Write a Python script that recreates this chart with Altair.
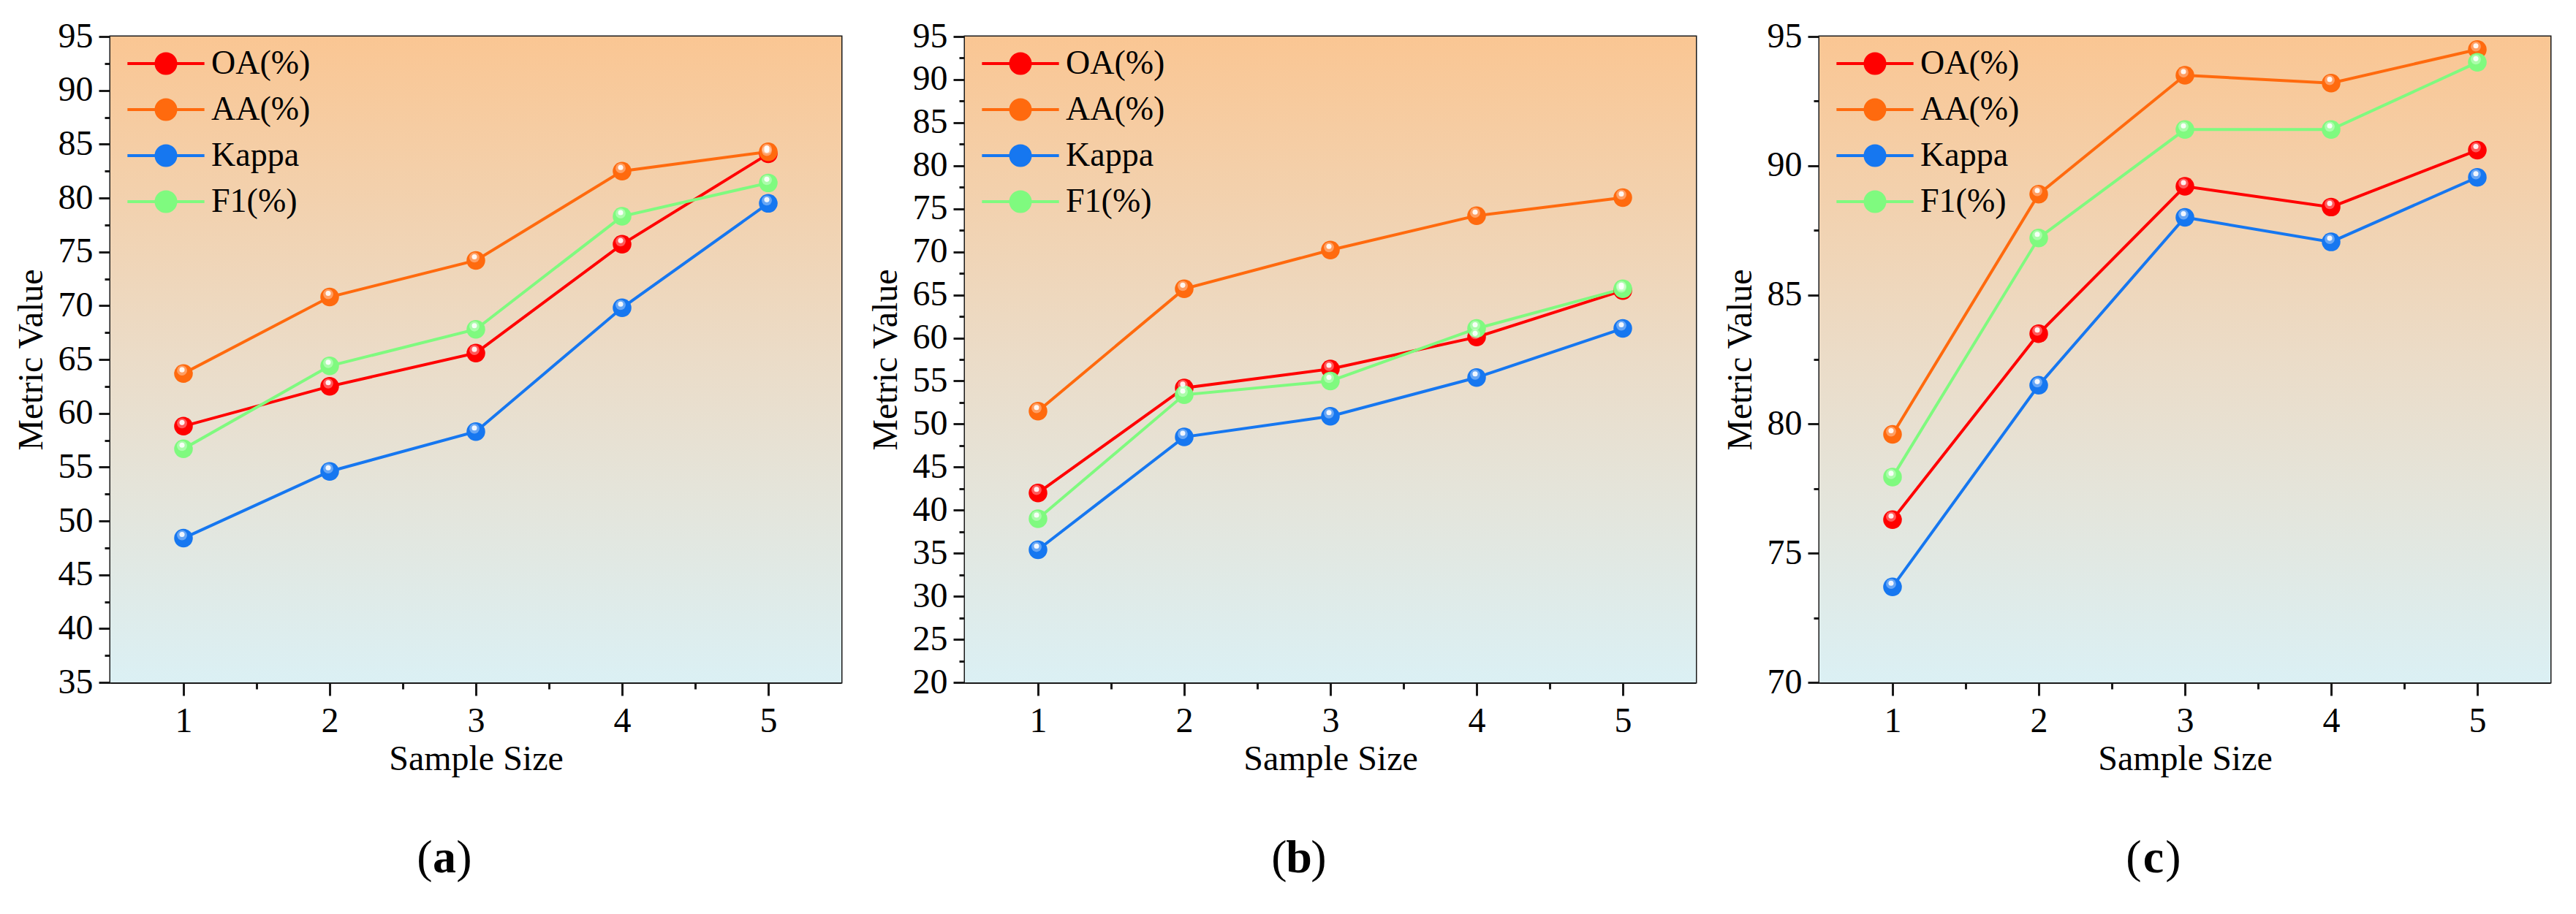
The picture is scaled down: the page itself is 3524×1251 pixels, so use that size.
import altair as alt
import pandas as pd

# ---------------- data ----------------
x_vals = [1, 2, 3, 4, 5]
series = ["OA(%)", "AA(%)", "Kappa", "F1(%)"]
colors = ["#FF0000", "#FF6A0E", "#1677F0", "#7FFA7F"]

a_oa = [58.8, 62.5, 65.6, 75.7, 84.1]
a_aa = [63.7, 70.8, 74.2, 82.5, 84.3]
a_kappa = [48.4, 54.6, 58.3, 69.8, 79.5]
a_f1 = [56.7, 64.4, 67.8, 78.3, 81.4]

b_oa = [42.0, 54.2, 56.4, 60.1, 65.5]
b_aa = [51.5, 65.7, 70.2, 74.2, 76.3]
b_kappa = [35.4, 48.5, 50.9, 55.4, 61.1]
b_f1 = [39.0, 53.4, 55.0, 61.1, 65.7]

c_oa = [76.3, 83.5, 89.2, 88.4, 90.6]
c_aa = [79.6, 88.9, 93.5, 93.2, 94.5]
c_kappa = [73.7, 81.5, 88.0, 87.05, 89.55]
c_f1 = [77.95, 87.2, 91.4, 91.4, 94.0]

y_dom_a = [35, 95]
y_dom_b = [20, 95]
y_dom_c = [70, 95]
x_domain = [0.5, 5.5]
x_tick_values = [1, 1.5, 2, 2.5, 3, 3.5, 4, 4.5, 5]

captions = ["a", "b", "c"]

# ---------------- style ----------------
W, H = 1000, 884
FONT = "Liberation Serif"
AX = "#1a1a1a"

LEGEND_PATH = "M-3.9,0L3.9,0M1,0A1,1,0,1,1,-1,0A1,1,0,1,1,1,0Z"

bg_gradient = alt.LinearGradient(
    gradient="linear",
    stops=[alt.GradientStop(color="#FAC693", offset=0),
           alt.GradientStop(color="#EBDCC8", offset=0.5),
           alt.GradientStop(color="#DBF0F4", offset=1)],
    x1=0, x2=0, y1=0, y2=1,
)


def make_panel(vals, ydom, caption):
    rows = []
    for s, v in zip(series, vals):
        for xi, yi in zip(x_vals, v):
            rows.append({"x": xi, "y": yi, "series": s})
    df = pd.DataFrame(rows)
    bg = pd.DataFrame({"x": [x_domain[0]], "x2": [x_domain[1]],
                       "y": [ydom[0]], "y2": [ydom[1]]})

    y_tick_values = []
    v = ydom[0]
    while v <= ydom[1] + 1e-9:
        y_tick_values.append(v)
        v += 2.5

    xaxis = alt.Axis(
        values=x_tick_values,
        labelExpr="datum.value % 1 === 0 ? format(datum.value, 'd') : ''",
        tickSize={"condition": {"test": "datum.value % 1 !== 0", "value": 9}, "value": 18},
        tickWidth=3, tickColor=AX, domainColor=AX, domainWidth=3,
        labelFont=FONT, labelFontSize=48, labelColor="black", labelPadding=11,
        labelOverlap=False, labelFlush=False,
        title="Sample Size", titleFont=FONT, titleFontSize=48,
        titleFontWeight="normal", titleColor="black", titlePadding=4,
        grid=False,
    )
    yaxis = alt.Axis(
        values=y_tick_values,
        labelExpr="datum.value % 5 === 0 ? format(datum.value, 'd') : ''",
        tickSize={"condition": {"test": "datum.value % 5 !== 0", "value": 8}, "value": 16},
        tickWidth=3, tickColor=AX, domainColor=AX, domainWidth=3,
        labelFont=FONT, labelFontSize=48, labelColor="black", labelPadding=8,
        labelOverlap=False, labelFlush=False,
        title="Metric Value", titleFont=FONT, titleFontSize=48,
        titleFontWeight="normal", titleColor="black", titlePadding=12,
        grid=False,
    )
    xs = alt.Scale(domain=x_domain, nice=False, zero=False)
    ys = alt.Scale(domain=ydom, nice=False, zero=False)
    cs = alt.Scale(domain=series, range=colors)

    legend = alt.Legend(
        title=None, orient="none", legendX=53, legendY=14,
        symbolType=LEGEND_PATH, symbolSize=729, symbolStrokeWidth=4,
        symbolOpacity=1,
        labelFont=FONT, labelFontSize=46, labelColor="black",
        labelOffset=39, rowPadding=17, padding=0,
    )

    base_bg = alt.Chart(bg).mark_rect(fill=bg_gradient).encode(
        x=alt.X("x:Q", scale=xs, axis=xaxis),
        x2="x2",
        y=alt.Y("y:Q", scale=ys, axis=yaxis),
        y2="y2",
    )
    lines = alt.Chart(df).mark_line(strokeWidth=4).encode(
        x=alt.X("x:Q", scale=xs, axis=xaxis),
        y=alt.Y("y:Q", scale=ys, axis=yaxis),
        color=alt.Color("series:N", scale=cs, legend=legend, sort=series),
        detail="series:N",
    )
    pts = alt.Chart(df).mark_point(filled=True, size=650, opacity=1).encode(
        x=alt.X("x:Q", scale=xs, axis=xaxis),
        y=alt.Y("y:Q", scale=ys, axis=yaxis),
        fill=alt.Fill("series:N", scale=cs, legend=None),
    )
    glow = alt.Chart(df).mark_circle(color="white", opacity=0.35, size=190,
                                     xOffset=-2, yOffset=-4).encode(
        x=alt.X("x:Q", scale=xs, axis=xaxis),
        y=alt.Y("y:Q", scale=ys, axis=yaxis),
    )
    hl = alt.Chart(df).mark_circle(color="white", opacity=0.9, size=50,
                                   xOffset=-2, yOffset=-5).encode(
        x=alt.X("x:Q", scale=xs, axis=xaxis),
        y=alt.Y("y:Q", scale=ys, axis=yaxis),
    )
    cap_l = alt.Chart(bg).mark_text(text="(", font=FONT, fontSize=64, baseline="middle",
                                    align="center", dx=-27, color="black").encode(
        x=alt.value(W / 2 - 43), y=alt.value(H + 241))
    cap_m = alt.Chart(bg).mark_text(text=caption, font=FONT, fontSize=64, fontWeight="bold",
                                    baseline="middle", align="center", color="black").encode(
        x=alt.value(W / 2 - 43), y=alt.value(H + 241))
    cap_r = alt.Chart(bg).mark_text(text=")", font=FONT, fontSize=64, baseline="middle",
                                    align="center", dx=27, color="black").encode(
        x=alt.value(W / 2 - 43), y=alt.value(H + 241))

    return alt.layer(base_bg, lines, pts, glow, hl, cap_l, cap_m, cap_r).properties(
        width=W, height=H)


pa = make_panel([a_oa, a_aa, a_kappa, a_f1], y_dom_a, captions[0])
pb = make_panel([b_oa, b_aa, b_kappa, b_f1], y_dom_b, captions[1])
pc = make_panel([c_oa, c_aa, c_kappa, c_f1], y_dom_c, captions[2])

chart = alt.hconcat(pa, pb, pc, spacing=33).resolve_scale(
    fill="independent", color="independent",
    x="independent", y="independent",
).resolve_legend(
    fill="independent", color="independent",
).properties(
    padding={"left": 17, "top": 24, "right": 5, "bottom": 5},
    background="white",
).configure_view(
    stroke=AX, strokeWidth=3,
)

chart.save("out.html", embed_options={"renderer": "svg", "actions": False})
